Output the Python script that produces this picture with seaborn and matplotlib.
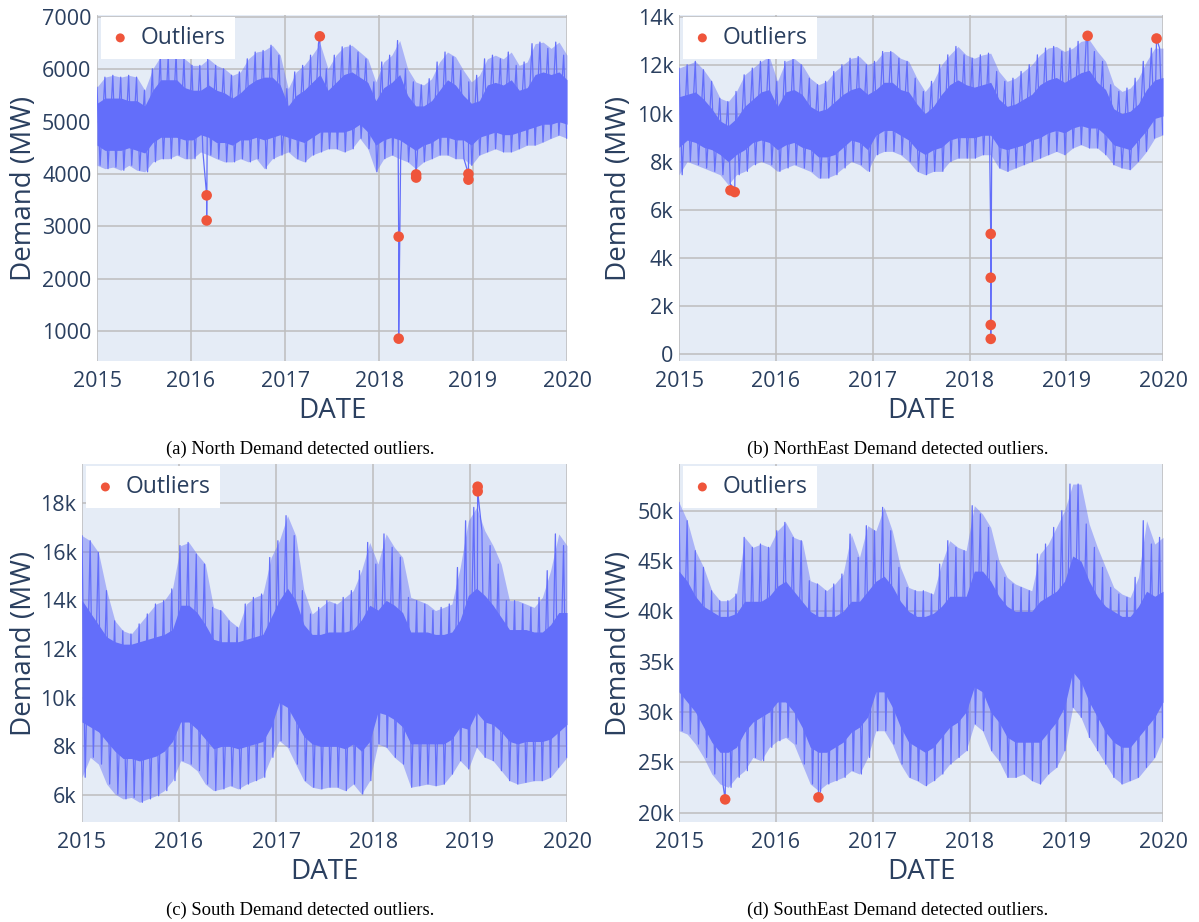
import numpy as np
import pandas as pd
import matplotlib
matplotlib.use("Agg")
import matplotlib.pyplot as plt
import matplotlib.dates as mdates
import seaborn as sns

sns.set_theme(style="darkgrid")
plt.rcParams["font.family"] = ["Open Sans", "DejaVu Sans"]

LINE = "#636efa"
RED = "#ef553b"
TXT = "#2a3f5f"
BG = "#e5ecf6"
GRID = "#bdbdbd"

# ---------------- data (monthly envelopes, 2015-01 .. 2019-12) -------------
north_hi = [5660, 5850, 5885, 5850, 5885, 5850, 5600, 6010, 6250, 6250, 6300, 6200,
            6075, 6075, 6200, 6075, 6010, 5885, 5950, 6200, 6330, 6360, 6460, 6270,
            5630, 5950, 6075, 6270, 6490, 6010, 6270, 6430, 6460, 6330, 6200, 5760,
            6140, 6270, 6550, 6010, 5760, 5700, 5820, 6140, 6330, 6240, 5980, 5760,
            5885, 6200, 6270, 6200, 6330, 6075, 6140, 6490, 6520, 6400, 6520, 6270]
north_lo = [4165, 4100, 4130, 4070, 4165, 4070, 4040, 4230, 4290, 4290, 4360, 4290,
            4290, 4420, 4360, 4290, 4230, 4230, 4290, 4230, 4290, 4100, 4290, 4360,
            4420, 4290, 4230, 4360, 4420, 4480, 4480, 4420, 4480, 4680, 4480, 4040,
            4290, 4360, 4290, 4230, 4100, 4230, 4290, 4360, 4360, 4290, 4290, 4165,
            4360, 4420, 4480, 4420, 4420, 4480, 4550, 4550, 4610, 4680, 4740, 4680]
north_core_hi = [5350, 5450, 5450, 5450, 5400, 5400, 5300, 5600, 5800, 5800, 5800, 5650,
                 5600, 5600, 5700, 5600, 5550, 5450, 5550, 5700, 5800, 5850, 5850, 5700,
                 5300, 5500, 5600, 5750, 5900, 5600, 5750, 5900, 5950, 5850, 5750, 5400,
                 5650, 5750, 5900, 5500, 5300, 5300, 5400, 5600, 5800, 5700, 5500, 5350,
                 5400, 5700, 5750, 5700, 5800, 5600, 5650, 5900, 5950, 5900, 5950, 5800]
north_core_lo = [4550, 4450, 4450, 4450, 4500, 4450, 4400, 4600, 4700, 4700, 4700, 4650,
                 4650, 4750, 4700, 4600, 4600, 4550, 4650, 4650, 4700, 4650, 4700, 4750,
                 4700, 4650, 4600, 4700, 4800, 4800, 4800, 4800, 4850, 4950, 4800, 4550,
                 4650, 4700, 4650, 4550, 4450, 4550, 4600, 4700, 4700, 4650, 4650, 4550,
                 4700, 4750, 4800, 4750, 4750, 4800, 4850, 4900, 4950, 4950, 5000, 4950]
north_out_dates = ["2016-03-02 00:00", "2016-03-02 01:00", "2017-05-15 14:00",
                   "2018-03-18 00:00", "2018-03-18 01:00", "2018-05-25 00:00",
                   "2018-05-25 01:00", "2018-12-14 00:00", "2018-12-14 01:00"]
north_out_vals = [3590, 3110, 6630, 2800, 850, 3990, 3930, 4000, 3890]

ne_hi = [11890, 12030, 12170, 11820, 11340, 10640, 10500, 10920, 11610, 11890, 12170, 12370,
         11340, 12170, 12300, 12030, 11470, 11200, 11340, 11750, 12030, 12300, 12370, 12030,
         12170, 12580, 12580, 12300, 12170, 11470, 10920, 11340, 12030, 12440, 12790, 12440,
         12300, 12440, 12510, 11750, 11340, 11470, 11750, 12030, 12440, 12720, 12790, 12580,
         12720, 13000, 13070, 12580, 12170, 11200, 10920, 11060, 11470, 12170, 12720, 12720]
ne_lo = [7460, 8010, 7875, 7740, 7600, 7460, 7045, 7460, 7600, 7875, 8010, 7875,
         7600, 7740, 7875, 7740, 7600, 7320, 7320, 7460, 7740, 8010, 7875, 7600,
         8290, 8430, 8430, 8290, 8010, 7600, 7460, 7600, 7600, 8010, 8150, 8150,
         8150, 8290, 8290, 7740, 7600, 7740, 7875, 8010, 8150, 8290, 8430, 8290,
         8570, 8710, 8570, 8570, 8290, 7875, 7740, 7670, 8010, 8430, 8980, 9120]
ne_core_hi = [10700, 10800, 10900, 10600, 10200, 9700, 9500, 9800, 10300, 10600, 10900, 11000,
              10300, 10900, 11000, 10800, 10300, 10100, 10200, 10500, 10800, 11000, 11100, 10800,
              11000, 11300, 11300, 11000, 10900, 10400, 10000, 10300, 10800, 11200, 11400, 11200,
              11100, 11200, 11300, 10600, 10300, 10400, 10600, 10800, 11200, 11400, 11500, 11300,
              11500, 11700, 11800, 11300, 11000, 10200, 10000, 10100, 10400, 11000, 11400, 11500]
ne_core_lo = [8600, 8900, 8800, 8600, 8500, 8300, 8000, 8300, 8500, 8800, 8900, 8800,
              8500, 8700, 8800, 8600, 8500, 8200, 8200, 8300, 8600, 8900, 8800, 8500,
              9100, 9300, 9300, 9100, 8900, 8500, 8300, 8500, 8600, 8900, 9000, 9000,
              9000, 9100, 9100, 8600, 8500, 8600, 8700, 8900, 9000, 9200, 9300, 9200,
              9400, 9500, 9400, 9400, 9100, 8700, 8600, 8500, 8900, 9300, 9800, 9900]
ne_out_dates = ["2015-07-14 04:00", "2015-07-30 04:00", "2018-03-22 00:00", "2018-03-22 01:00",
                "2018-03-22 02:00", "2018-03-22 03:00", "2019-03-22 15:00", "2019-12-07 15:00"]
ne_out_vals = [6810, 6740, 5000, 3180, 1220, 640, 13230, 13120]

south_hi = [16660, 16450, 15970, 14400, 13160, 12750, 12620, 13030, 13440, 13850, 13990, 14470,
            16250, 16380, 15900, 15490, 13710, 13580, 13160, 12890, 13850, 14120, 14260, 15760,
            16450, 17480, 16660, 14400, 13440, 13710, 13990, 13850, 14120, 14400, 15220, 16380,
            15490, 16730, 16180, 15770, 14120, 13990, 13850, 13580, 13710, 13850, 15350, 17270,
            17820, 16860, 16250, 15490, 13990, 13990, 13850, 13710, 14120, 15220, 16730, 16250]
south_lo = [6730, 7550, 7270, 6450, 6040, 5840, 5900, 5700, 5840, 5970, 6180, 6590,
            7410, 7270, 7000, 6450, 6180, 6250, 6380, 6250, 6450, 6590, 6730, 7550,
            8230, 7960, 7270, 6590, 6320, 6250, 6320, 6320, 6180, 6450, 6040, 6590,
            8100, 7960, 7550, 7270, 6320, 6380, 6450, 6380, 6450, 6860, 7410, 7070,
            7960, 7550, 7410, 7000, 6590, 6450, 6520, 6590, 6590, 6730, 7140, 7550]
south_core_hi = [14000, 13500, 13000, 12500, 12300, 12200, 12200, 12300, 12400, 12500, 12600, 12800,
                 13800, 13800, 13500, 13000, 12400, 12300, 12300, 12300, 12400, 12500, 12600, 13300,
                 14000, 14500, 14000, 13000, 12600, 12600, 12700, 12700, 12700, 12800, 13200, 13800,
                 13600, 14000, 13800, 13500, 12700, 12700, 12700, 12600, 12600, 12700, 13200, 14200,
                 14500, 14200, 13800, 13300, 12800, 12800, 12800, 12700, 12700, 13000, 13500, 13500]
south_core_lo = [9000, 8800, 8600, 8200, 7800, 7500, 7500, 7400, 7500, 7600, 7800, 8200,
                 9000, 9000, 8700, 8300, 7900, 8000, 8000, 7900, 8000, 8100, 8200, 8800,
                 9800, 9600, 9000, 8400, 8100, 8000, 8000, 8000, 7900, 8100, 7800, 8200,
                 9400, 9300, 9100, 8800, 8100, 8100, 8100, 8100, 8100, 8300, 8800, 8700,
                 9400, 9000, 8900, 8600, 8200, 8100, 8200, 8200, 8200, 8300, 8600, 8900]
south_out_dates = ["2019-01-29 15:00", "2019-01-29 16:00"]
south_out_vals = [18670, 18480]

se_hi = [50830, 49010, 46030, 44370, 42050, 41060, 41060, 41720, 47350, 46360, 46690, 46360,
         48010, 48840, 47350, 47020, 43050, 42720, 42050, 42720, 43710, 47680, 45360, 48510,
         48010, 50330, 48010, 44370, 42380, 42050, 42050, 41720, 44700, 47020, 46360, 46030,
         50500, 49670, 48340, 45030, 43380, 42720, 42380, 42050, 45700, 46690, 48340, 50000,
         52650, 52650, 48680, 46360, 44370, 42380, 41720, 41390, 43380, 49010, 46690, 47350]
se_lo = [28140, 27810, 26820, 25490, 23840, 22850, 22520, 23510, 24170, 25490, 25160, 26490,
         27150, 27480, 26820, 24830, 22850, 22190, 22850, 23180, 23510, 24170, 23840, 25490,
         28140, 28140, 26820, 24830, 23510, 23180, 22680, 23180, 23840, 24830, 25490, 26160,
         28810, 28140, 26160, 25160, 23510, 23510, 23840, 23180, 22850, 23840, 24500, 26160,
         30460, 29470, 27480, 26160, 24830, 23510, 22850, 23180, 23510, 24500, 25490, 27480]
se_core_hi = [44000, 43000, 41500, 40500, 40000, 39500, 39500, 39800, 41000, 41000, 41000, 41500,
              42500, 43000, 42000, 41000, 40000, 39500, 39500, 39500, 40000, 41000, 41000, 42000,
              43000, 43500, 42500, 41000, 40000, 39500, 39500, 39800, 40500, 41500, 41500, 41500,
              44000, 44000, 43000, 41500, 40500, 40000, 40000, 40000, 41000, 41500, 42000, 43000,
              45500, 45000, 43000, 41500, 40500, 40000, 39500, 39500, 40500, 42000, 41500, 42000]
se_core_lo = [32000, 31000, 30000, 28500, 27000, 26000, 26000, 26500, 28000, 29000, 29500, 30000,
              31000, 31000, 30000, 28500, 26500, 26000, 26000, 26500, 27000, 28000, 28500, 29500,
              32000, 32000, 30500, 28500, 27000, 26500, 26000, 26500, 27500, 28500, 29000, 30000,
              32500, 32000, 30000, 29000, 27500, 27000, 27000, 27000, 27000, 28000, 29000, 30500,
              34000, 33000, 31000, 29500, 28000, 27000, 26500, 26500, 27500, 28500, 29500, 31000]
se_out_dates = ["2015-06-24 04:00", "2016-06-10 04:00"]
se_out_vals = [21320, 21520]

north_yticks = [1000, 2000, 3000, 4000, 5000, 6000, 7000]
north_ylabels = ["1000", "2000", "3000", "4000", "5000", "6000", "7000"]
ne_yticks = [0, 2000, 4000, 6000, 8000, 10000, 12000, 14000]
ne_ylabels = ["0", "2k", "4k", "6k", "8k", "10k", "12k", "14k"]
south_yticks = [6000, 8000, 10000, 12000, 14000, 16000, 18000]
south_ylabels = ["6k", "8k", "10k", "12k", "14k", "16k", "18k"]
se_yticks = [20000, 25000, 30000, 35000, 40000, 45000, 50000]
se_ylabels = ["20k", "25k", "30k", "35k", "40k", "45k", "50k"]

captions = ["(a) North Demand detected outliers.",
            "(b) NorthEast Demand detected outliers.",
            "(c) South Demand detected outliers.",
            "(d) SouthEast Demand detected outliers."]

# ---------------- figure ----------------
fig = plt.figure(figsize=(11.99, 9.22), dpi=100)
W, H = 1199, 922


def add_axes(x0, x1, y0, y1):
    return fig.add_axes([x0 / W, 1 - y1 / H, (x1 - x0) / W, (y1 - y0) / H])


panels = [
    dict(box=(97, 567, 15, 361), hi=north_hi, lo=north_lo, chi=north_core_hi, clo=north_core_lo,
         od=north_out_dates, ov=north_out_vals, ylim=(423, 7038), yt=north_yticks, yl=north_ylabels,
         ylab_x=24, cpos=(300, 449)),
    dict(box=(679, 1163, 15, 361), hi=ne_hi, lo=ne_lo, chi=ne_core_hi, clo=ne_core_lo,
         od=ne_out_dates, ov=ne_out_vals, ylim=(-279, 14096), yt=ne_yticks, yl=ne_ylabels,
         ylab_x=619, cpos=(898, 449)),
    dict(box=(82, 567, 464, 822), hi=south_hi, lo=south_lo, chi=south_core_hi, clo=south_core_lo,
         od=south_out_dates, ov=south_out_vals, ylim=(4891, 19603), yt=south_yticks, yl=south_ylabels,
         ylab_x=24, cpos=(300, 910)),
    dict(box=(679, 1163, 464, 822), hi=se_hi, lo=se_lo, chi=se_core_hi, clo=se_core_lo,
         od=se_out_dates, ov=se_out_vals, ylim=(19074, 54640), yt=se_yticks, yl=se_ylabels,
         ylab_x=619, cpos=(898, 910)),
]

t_hi = pd.date_range("2015-01-01", "2019-12-19", periods=60)
t_lo = t_hi + pd.Timedelta(days=12)
t_core = pd.date_range("2015-01-01", "2019-12-31 23:00", periods=60)

for p, caption in zip(panels, captions):
    x0, x1, y0, y1 = p["box"]
    ax = add_axes(x0, x1, y0, y1)
    ax.set_facecolor(BG)
    out_t = pd.to_datetime(p["od"])

    # fuzzy outer envelope (dense hourly spikes) and solid core
    ax.fill_between(t_core, p["lo"], p["hi"], color=LINE, alpha=0.45, lw=0, zorder=2)
    ax.fill_between(t_core, p["clo"], p["chi"], color=LINE, lw=0, zorder=2.5)
    line = pd.DataFrame({
        "DATE": list(t_hi) + list(t_lo) + list(out_t),
        "Demand": list(p["hi"]) + list(p["lo"]) + list(p["ov"]),
    }).sort_values("DATE")
    sns.lineplot(data=line, x="DATE", y="Demand", ax=ax, color=LINE, lw=0.9,
                 estimator=None, sort=False, legend=False, zorder=3)
    sns.scatterplot(x=out_t, y=p["ov"], ax=ax, color=RED, s=58, edgecolor="none",
                    linewidth=0, label="Outliers", zorder=4)

    ax.set_xlim(pd.Timestamp("2015-01-01"), pd.Timestamp("2020-01-01"))
    ax.set_ylim(*p["ylim"])
    ax.xaxis.set_major_locator(mdates.YearLocator(1))
    ax.xaxis.set_major_formatter(mdates.DateFormatter("%Y"))
    ax.set_yticks(p["yt"])
    ax.set_yticklabels(p["yl"])
    ax.grid(True, color=GRID, lw=1.1, zorder=0)
    ax.set_axisbelow(True)
    for s in ax.spines.values():
        s.set_visible(False)
    ax.tick_params(axis="both", length=0, labelsize=15.5, labelcolor=TXT)
    ax.tick_params(axis="x", pad=7)
    ax.tick_params(axis="y", pad=4)

    ax.set_xlabel("DATE", fontsize=20, color=TXT)
    ax.set_ylabel("Demand (MW)", fontsize=20, color=TXT)
    h = y1 - y0
    w = x1 - x0
    ax.xaxis.set_label_coords(0.5, -50 / h)
    ax.xaxis.label.set_va("center")
    ax.yaxis.set_label_coords((p["ylab_x"] - x0) / w, 0.5)
    ax.yaxis.label.set_va("center")

    leg = ax.legend(loc="upper left", bbox_to_anchor=(0.008, 0.995), frameon=True,
                    facecolor="white", edgecolor="white", framealpha=1, fancybox=False,
                    fontsize=16.5, handlelength=0.9, handletextpad=0.45, borderpad=0.4,
                    borderaxespad=0.0, markerscale=0.85)
    for t in leg.get_texts():
        t.set_color(TXT)
    leg.get_frame().set_linewidth(0)

    cx, cy = p["cpos"]
    fig.text(cx / W, 1 - cy / H, caption, ha="center", va="center",
             family=["Liberation Serif", "DejaVu Serif"], fontsize=13.4, color="black")

fig.savefig("out.png", dpi=100, facecolor="white")
